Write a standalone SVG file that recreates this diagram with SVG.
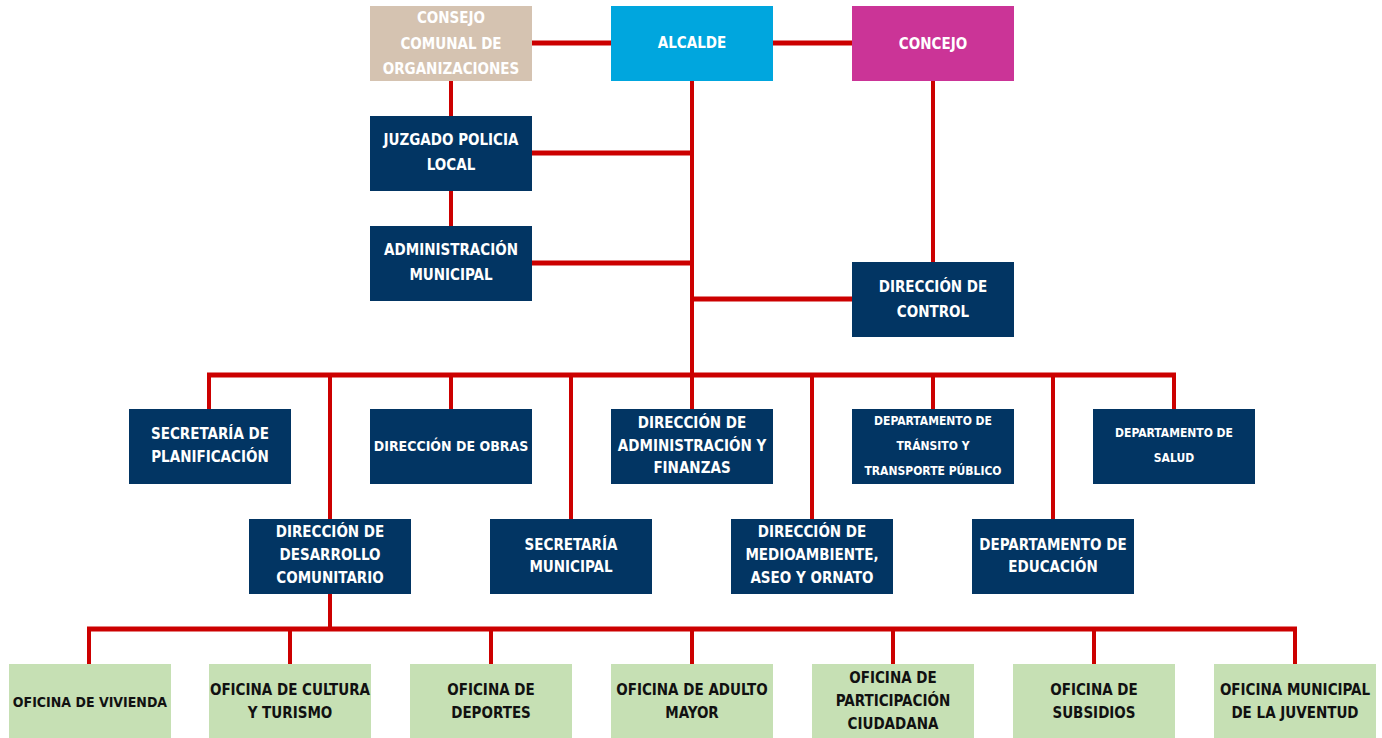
<svg xmlns="http://www.w3.org/2000/svg" width="1382" height="738" viewBox="0 0 1382 738">
<style>
.n{fill:#023563}
.g{fill:#c6e0b4}
text{font-family:"DejaVu Sans Condensed","DejaVu Sans",sans-serif;font-stretch:condensed;font-weight:bold;font-size:15px;fill:#fff;text-anchor:middle;dominant-baseline:central}
.d text{fill:#111}
.s{font-size:12px}
.t{font-size:14px}
.h{stroke:#cc0000;stroke-width:5;fill:none}
.v{stroke:#cc0000;stroke-width:4;fill:none}
</style>
<rect width="1382" height="738" fill="#fff"/>
<g id="connectors">
<path class="h" d="M532 43H611M773 43H852M532 153H692M532 263H692M692 299H852M207 375H1176M87 629H1297"/>
<path class="v" d="M451 81V116M451 191V226M692 81V377M933 81V262M209 375V409M330 375V519M451 375V409M571 375V519M692 375V409M812 375V519M933 375V409M1053 375V519M1174 375V409M330 594V631M89 629V664M290 629V664M491 629V664M692 629V664M893 629V664M1094 629V664M1295 629V664"/>
</g>
<g id="consejo"><rect x="370" y="6" width="162" height="75" fill="#d5c3b1"/><text x="451" y="18">CONSEJO</text><text x="451" y="44">COMUNAL DE</text><text x="451" y="69">ORGANIZACIONES</text></g>
<g id="alcalde"><rect x="611" y="6" width="162" height="75" fill="#00a6de"/><text x="692" y="43">ALCALDE</text></g>
<g id="concejo"><rect x="852" y="6" width="162" height="75" fill="#cb3497"/><text x="933" y="44">CONCEJO</text></g>
<g id="juzgado"><rect class="n" x="370" y="116" width="162" height="75"/><text x="451" y="140">JUZGADO POLICIA</text><text x="451" y="165">LOCAL</text></g>
<g id="adminmun"><rect class="n" x="370" y="226" width="162" height="75"/><text x="451" y="250">ADMINISTRACIÓN</text><text x="451" y="275">MUNICIPAL</text></g>
<g id="control"><rect class="n" x="852" y="262" width="162" height="75"/><text x="933" y="287">DIRECCIÓN DE</text><text x="933" y="312">CONTROL</text></g>
<g id="planificacion"><rect class="n" x="129" y="409" width="162" height="75"/><text x="210" y="434">SECRETARÍA DE</text><text x="210" y="457">PLANIFICACIÓN</text></g>
<g id="obras"><rect class="n" x="370" y="409" width="162" height="75"/><text class="t" x="451" y="446">DIRECCIÓN DE OBRAS</text></g>
<g id="finanzas"><rect class="n" x="611" y="409" width="162" height="75"/><text x="692" y="423">DIRECCIÓN DE</text><text x="692" y="446">ADMINISTRACIÓN Y</text><text x="692" y="468">FINANZAS</text></g>
<g id="transito"><rect class="n" x="852" y="409" width="162" height="75"/><text class="s" x="933" y="421">DEPARTAMENTO DE</text><text class="s" x="933" y="446">TRÁNSITO Y</text><text class="s" x="933" y="471">TRANSPORTE PÚBLICO</text></g>
<g id="salud"><rect class="n" x="1093" y="409" width="162" height="75"/><text class="s" x="1174" y="433">DEPARTAMENTO DE</text><text class="s" x="1174" y="458">SALUD</text></g>
<g id="desarrollo"><rect class="n" x="249" y="519" width="162" height="75"/><text x="330" y="532">DIRECCIÓN DE</text><text x="330" y="555">DESARROLLO</text><text x="330" y="578">COMUNITARIO</text></g>
<g id="secmun"><rect class="n" x="490" y="519" width="162" height="75"/><text x="571" y="545">SECRETARÍA</text><text x="571" y="567">MUNICIPAL</text></g>
<g id="medioambiente"><rect class="n" x="731" y="519" width="162" height="75"/><text x="812" y="532">DIRECCIÓN DE</text><text x="812" y="555">MEDIOAMBIENTE,</text><text x="812" y="578">ASEO Y ORNATO</text></g>
<g id="educacion"><rect class="n" x="972" y="519" width="162" height="75"/><text x="1053" y="545">DEPARTAMENTO DE</text><text x="1053" y="567">EDUCACIÓN</text></g>
<g class="d">
<g id="vivienda"><rect class="g" x="9" y="664" width="162" height="74"/><text class="t" x="90" y="702">OFICINA DE VIVIENDA</text></g>
<g id="cultura"><rect class="g" x="209" y="664" width="162" height="74"/><text x="290" y="690">OFICINA DE CULTURA</text><text x="290" y="713">Y TURISMO</text></g>
<g id="deportes"><rect class="g" x="410" y="664" width="162" height="74"/><text x="491" y="690">OFICINA DE</text><text x="491" y="713">DEPORTES</text></g>
<g id="adulto"><rect class="g" x="611" y="664" width="162" height="74"/><text x="692" y="690">OFICINA DE ADULTO</text><text x="692" y="713">MAYOR</text></g>
<g id="participacion"><rect class="g" x="812" y="664" width="162" height="74"/><text x="893" y="678">OFICINA DE</text><text x="893" y="701">PARTICIPACIÓN</text><text x="893" y="724">CIUDADANA</text></g>
<g id="subsidios"><rect class="g" x="1013" y="664" width="162" height="74"/><text x="1094" y="690">OFICINA DE</text><text x="1094" y="713">SUBSIDIOS</text></g>
<g id="juventud"><rect class="g" x="1214" y="664" width="162" height="74"/><text x="1295" y="690">OFICINA MUNICIPAL</text><text x="1295" y="713">DE LA JUVENTUD</text></g>
</g>
</svg>
